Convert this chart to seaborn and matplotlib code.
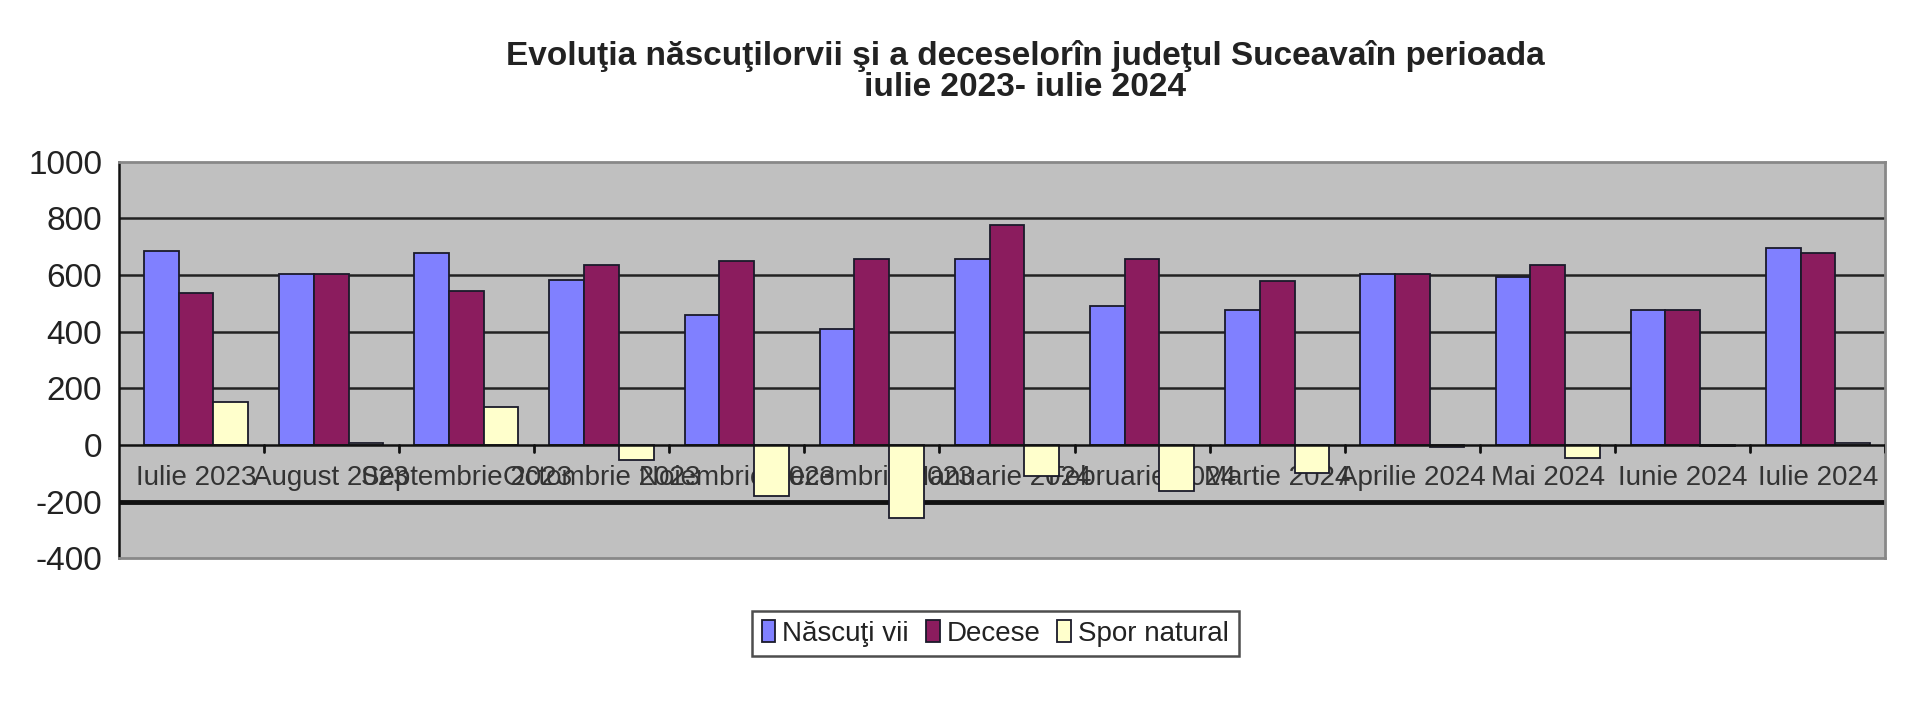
import matplotlib
matplotlib.use("Agg")
import matplotlib.pyplot as plt
from matplotlib import font_manager
import seaborn as sns
import pandas as pd

luni = ["Iulie 2023", "August 2023", "Septembrie 2023", "Octombrie 2023",
        "Noiembrie 2023", "Decembrie 2023", "Ianuarie 2024", "Februarie 2024",
        "Martie 2024", "Aprilie 2024", "Mai 2024", "Iunie 2024", "Iulie 2024"]
nascuti_vii = [686, 604, 677, 582, 460, 410, 657, 491, 478, 604, 594, 478, 695]
decese = [535, 604, 543, 635, 650, 657, 777, 657, 580, 604, 635, 478, 679]
spor_natural = [151, 6, 134, -53, -181, -258, -110, -164, -98, -6, -45, -5, 8]
serii = ["Născuţi vii", "Decese", "Spor natural"]
culori = ["#8080FF", "#8B1C5E", "#FFFFCC"]

df = pd.DataFrame({
    "luna": luni * 3,
    "valoare": nascuti_vii + decese + spor_natural,
    "serie": [serii[0]] * 13 + [serii[1]] * 13 + [serii[2]] * 13,
})

def pick(names):
    for n in names:
        try:
            font_manager.findfont(n, fallback_to_default=False)
            return n
        except Exception:
            pass
    return "DejaVu Sans"

base = pick(["Liberation Sans", "Arial"])

sns.set_style("white")
plt.rcParams["font.family"] = [base, "DejaVu Sans"]
plt.rcParams["axes.unicode_minus"] = False

fig = plt.figure(figsize=(19.2, 7.25), dpi=100)
ax = fig.add_axes([0.062, 0.230, 0.920, 0.547])
ax.set_facecolor("#C0C0C0")

sns.barplot(data=df, x="luna", y="valoare", hue="serie", order=luni,
            hue_order=serii, palette=culori, width=0.77, gap=0,
            edgecolor="#1a1a2a", linewidth=1.3, saturation=1, ax=ax, zorder=3)

ax.set_ylim(-400, 1000)
ax.set_xlim(-0.57, len(luni) - 0.5)
ax.set_yticks(range(-400, 1001, 200))
for v in range(-400, 1001, 200):
    if v == -200:
        ax.axhline(v, color="#111111", lw=3.5, zorder=1)
    elif v in (0, -400, 1000):
        continue
    else:
        ax.axhline(v, color="#222222", lw=1.8, zorder=1)
ax.axhline(0, color="#111111", lw=1.8, zorder=4)

for s in ["top", "right", "bottom"]:
    ax.spines[s].set_color("#888888")
    ax.spines[s].set_linewidth(2)
ax.spines["left"].set_color("#111111")
ax.spines["left"].set_linewidth(1.8)

ax.tick_params(axis="y", direction="out", length=8, width=1.8, color="#111111",
               labelsize=24, labelcolor="#222222", pad=4)
ax.tick_params(axis="x", which="major", length=0, labelsize=20,
               labelcolor="#333333", pad=-67)
for xb in [i + 0.5 for i in range(len(luni))]:
    ax.plot([xb, xb], [0, -24], color="#111111", lw=2, zorder=4)

ax.set_xlabel("")
ax.set_ylabel("")

leg = ax.legend(loc="center", bbox_to_anchor=(0.496, -0.19), ncol=3,
                fontsize=20, frameon=True, fancybox=False, handlelength=0.5,
                handleheight=0.8, handletextpad=0.25, columnspacing=0.6,
                borderpad=0.35, labelcolor="#222222")
leg.get_frame().set_edgecolor("#222222")
leg.get_frame().set_linewidth(1.8)

fig.text(0.534, 0.901,
         "Evoluţia născuţilorvii şi a deceselorîn judeţul Suceavaîn perioada\niulie 2023- iulie 2024",
         ha="center", va="center", fontsize=24, fontweight="bold",
         color="#222222", linespacing=1.0)

fig.savefig("out.png", dpi=100, facecolor="white")
